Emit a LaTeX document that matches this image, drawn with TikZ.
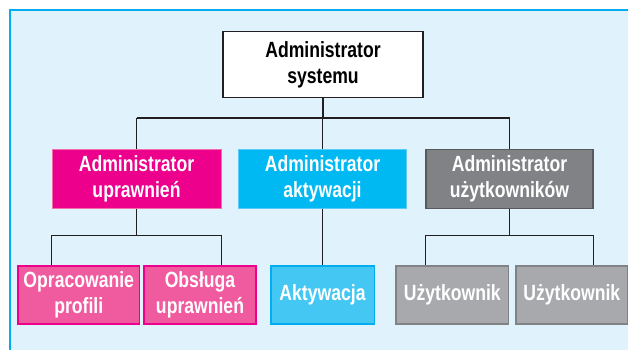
\documentclass[tikz,border=0pt]{standalone}
\usepackage{fontspec}
\newfontfamily\condfont{Liberation Sans}[FakeStretch=0.8]
\definecolor{panelbg}{HTML}{E0F2FC}
\definecolor{panelline}{HTML}{00AEEF}
\definecolor{lineblk}{HTML}{231F20}
\definecolor{magA}{HTML}{EC008C}
\definecolor{magAline}{HTML}{F06EAA}
\definecolor{magB}{HTML}{F05A9E}
\definecolor{cyaA}{HTML}{00B9F2}
\definecolor{cyaAline}{HTML}{5BCBF5}
\definecolor{cyaB}{HTML}{45C7F4}
\definecolor{graA}{HTML}{808285}
\definecolor{graAline}{HTML}{58595B}
\definecolor{graB}{HTML}{A7A9AC}
\begin{document}
\begin{tikzpicture}[x=1pt,y=-1pt,
  box/.style={inner sep=0pt, align=center, font=\condfont\bfseries\fontsize{22}{26}\selectfont, text=white},
  topbox/.style={box, fill=white, draw=lineblk, line width=1.6pt, text=black, minimum width=200pt, minimum height=66pt},
  lvtwo/.style={box, minimum height=59pt},
  lvthree/.style={box, minimum height=58pt, line width=1.6pt},
  pinkA/.style={lvtwo, fill=magA, draw=magAline, line width=0.8pt},
  cyanA/.style={lvtwo, fill=cyaA, draw=cyaAline, line width=0.8pt},
  grayA/.style={lvtwo, fill=graA, draw=graAline, line width=1.4pt},
  pinkB/.style={lvthree, fill=magB, draw=magA},
  cyanB/.style={lvthree, fill=cyaB, draw=panelline},
  grayB/.style={lvthree, fill=graB, draw=graA},
  conn/.style={draw=lineblk, line width=1.3pt}
]
\useasboundingbox (0,0) rectangle (628,350);
\fill[panelbg] (10,10) rectangle (628,350);
\draw[panelline, line width=2pt] (10,350) -- (10,10) -- (628,10);

\coordinate (busA) at (0,118);
\coordinate (busB) at (0,235.7);

\node[topbox] (top) at (323,64.7) {Administrator\\systemu};

\node[pinkA, minimum width=169pt] (adup) at (136.5,178.8) {Administrator\\uprawnień};
\node[cyanA, minimum width=168pt] (adak) at (322.5,178.8) {Administrator\\aktywacji};
\node[grayA, minimum width=167pt] (aduz) at (509.5,178.8) {Administrator\\użytkowników};

\node[pinkB, minimum width=121.5pt] (opr) at (78.75,295) {Opracowanie\\profili};
\node[pinkB, minimum width=112pt] (obs) at (200,295) {Obsługa\\uprawnień};
\node[cyanB, minimum width=103.6pt] (akt) at (322.5,295) {Aktywacja};
\node[grayB, minimum width=112.7pt] (uza) at (452.3,295) {Użytkownik};
\node[grayB, minimum width=111.7pt] (uzb) at (571.8,295) {Użytkownik};

% level 1 -> level 2
\draw[conn] (top.south) -- (top.south |- busA);
\draw[conn] (adup.north |- busA) -- (aduz.north |- busA);
\draw[conn] (adup.north |- busA) -- (adup.north);
\draw[conn] (adak.north |- busA) -- (adak.north);
\draw[conn] (aduz.north |- busA) -- (aduz.north);

% level 2 -> level 3
\draw[conn] (adup.south) -- (adup.south |- busB);
\draw[conn] (opr.north -| adup.south west) -- (adup.south west |- busB) -- (adup.south east |- busB) -- (obs.north -| adup.south east);
\draw[conn] (adak.south) -- (akt.north);
\draw[conn] (aduz.south) -- (aduz.south |- busB);
\draw[conn] (uza.north -| aduz.south west) -- (aduz.south west |- busB) -- (aduz.south east |- busB) -- (uzb.north -| aduz.south east);
\end{tikzpicture}
\end{document}
